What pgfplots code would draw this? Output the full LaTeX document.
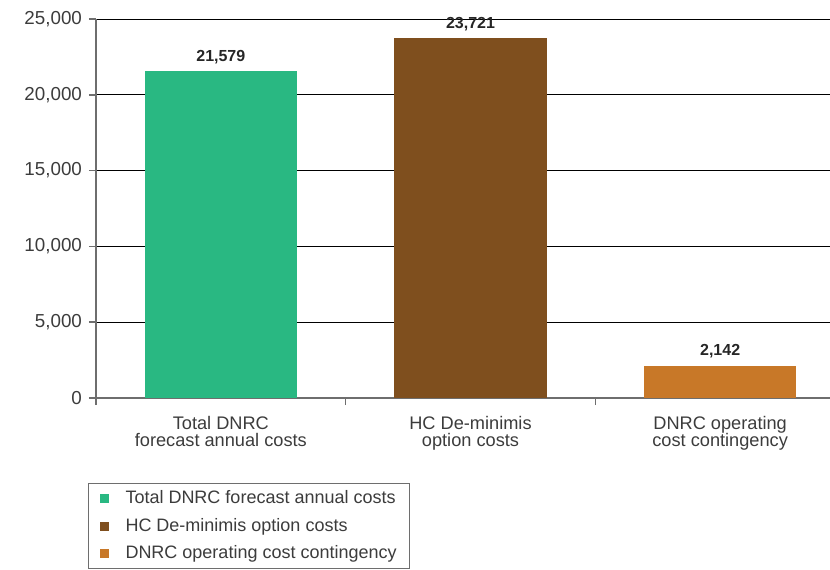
\documentclass[border=0pt]{standalone}
\usepackage{pgfplots}
\pgfplotsset{compat=1.18}
\usepackage{fontspec}
\setmainfont{Liberation Sans}

\definecolor{cgreen}{RGB}{41,184,130}
\definecolor{cbrown}{RGB}{127,79,30}
\definecolor{corange}{RGB}{200,120,40}
\definecolor{txt}{RGB}{60,60,60}
\definecolor{axgray}{RGB}{110,110,110}

\begin{document}
\begin{tikzpicture}
\begin{axis}[
    name=ax,
    scale only axis,
    width=367pt, height=189.5pt,
    xmin=-0.5, xmax=2.44,
    ymin=0, ymax=25000,
    axis x line=bottom, axis y line=left,
    axis line style={-, axgray, line width=0.8pt},
    ytick={0,5000,10000,15000,20000,25000},
    ymajorgrids,
    grid style={black, line width=0.5pt},
    scaled y ticks=false,
    /pgf/number format/.cd, 1000 sep={,}, assume math mode=true, /pgfplots/.cd,
    tick align=outside,
    major tick length=3.5pt,
    tick style={axgray, line width=0.8pt},
    xtick={-0.5,0.5,1.5},
    xticklabels={},
    extra x ticks={0,1,2},
    extra x tick labels={{Total DNRC\\forecast annual costs},{HC De-minimis\\option costs},{DNRC operating\\cost contingency}},
    extra x tick style={major tick length=0pt, grid=none},
    xticklabel style={align=center, font=\fontsize{9.1}{8.7}\selectfont, text=txt, yshift=-5.5pt},
    yticklabel style={font=\fontsize{9.4}{10}\selectfont, text=txt},
    ybar, bar width=0.61, bar shift=0pt,
    nodes near coords={\pgfmathprintnumber[1000 sep={,}]{\pgfplotspointmeta}},
    nodes near coords style={font=\bfseries\fontsize{8}{9}\selectfont, text=black!85},
    legend style={at={(-0.0109,-0.2243)}, anchor=north west, draw=axgray,
        line width=0.5pt, font=\fontsize{9}{10}\selectfont, text=txt,
        row sep=1.8pt, inner xsep=4.5pt, inner ysep=1.5pt},
    legend cell align=left,
    legend image code/.code={\fill[#1] (1pt,-2.25pt) rectangle (5.5pt,2.25pt);
        \path[draw=none, fill=none] (0pt,0pt) rectangle (12pt,0.1pt);},
]
\addplot[fill=cgreen, draw=none] coordinates {(0,21579)};
\addplot[fill=cbrown, draw=none] coordinates {(1,23721)};
\addplot[fill=corange, draw=none] coordinates {(2,2142)};
\legend{Total DNRC forecast annual costs, HC De-minimis option costs, DNRC operating cost contingency}
\end{axis}
\pgfresetboundingbox
\path[use as bounding box] ([xshift=-48pt,yshift=-85.5pt]ax.south west) rectangle ([yshift=9.5pt]ax.north east);
\end{tikzpicture}
\end{document}
